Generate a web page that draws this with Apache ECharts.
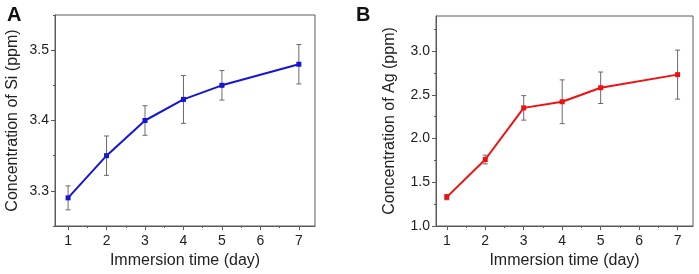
<!DOCTYPE html>
<html><head><meta charset="utf-8">
<script src="https://cdn.jsdelivr.net/npm/echarts@6/dist/echarts.min.js"></script>
<style>html,body{margin:0;padding:0;background:#fff}#c{width:699px;height:274px}</style>
</head><body><div id="c"></div>
<script>
// ---- data ----
const days = [1, 2, 3, 4, 5, 7];
const siValues = [3.29, 3.35, 3.40, 3.43, 3.45, 3.48];
const siErrors = [0.017, 0.028, 0.021, 0.034, 0.021, 0.028];
const agValues = [1.33, 1.76, 2.35, 2.42, 2.58, 2.73];
const agErrors = [0.03, 0.05, 0.14, 0.25, 0.18, 0.28];
const xTicks = [1, 2, 3, 4, 5, 6, 7];
const xMinorTicks = [1.5, 2.5, 3.5, 4.5, 5.5, 6.5];
const siTicks = [3.3, 3.4, 3.5];
const siMinorTicks = [3.25, 3.35, 3.45, 3.55];
const agTicks = [1.0, 1.5, 2.0, 2.5, 3.0];
const agMinorTicks = [1.25, 1.75, 2.25, 2.75, 3.25];

const FONT = 'Liberation Sans';
const AX = '#5a5a5a';
const chart = echarts.init(document.getElementById('c'), null, {renderer: 'canvas'});

function pts(vals) { return days.map((d, i) => [d, vals[i]]); }
function errs(vals, e) { return days.map((d, i) => [d, vals[i] - e[i], vals[i] + e[i]]); }

function xAxes(gi, min, max) {
  return [
    {gridIndex: gi, type: 'value', min: min, max: max,
     name: 'Immersion time (day)', nameLocation: 'middle', nameGap: 27,
     nameTextStyle: {fontFamily: FONT, fontSize: 16, color: '#222'},
     axisLine: {show: true, lineStyle: {color: AX, width: 1}},
     axisTick: {show: true, inside: false, length: 4, customValues: xTicks, lineStyle: {color: AX}},
     axisLabel: {customValues: xTicks, fontFamily: FONT, fontSize: 14, color: '#222', margin: 8},
     splitLine: {show: false}},
    {gridIndex: gi, type: 'value', min: min, max: max, position: 'bottom',
     axisLine: {show: false},
     axisTick: {show: true, length: 2, customValues: xMinorTicks, lineStyle: {color: AX}},
     axisLabel: {show: false}, splitLine: {show: false}}
  ];
}
function yAxes(gi, min, max, ticks, minor, name, gap) {
  return [
    {gridIndex: gi, type: 'value', min: min, max: max,
     name: name, nameLocation: 'middle', nameGap: gap, nameRotate: 90,
     nameTextStyle: {fontFamily: FONT, fontSize: 16, color: '#222'},
     axisLine: {show: true, lineStyle: {color: AX, width: 1}},
     axisTick: {show: true, length: 4, customValues: ticks, lineStyle: {color: AX}},
     axisLabel: {customValues: ticks, fontFamily: FONT, fontSize: 14, color: '#222', margin: 6,
                 formatter: v => v.toFixed(1)},
     splitLine: {show: false}},
    {gridIndex: gi, type: 'value', min: min, max: max, position: 'left',
     axisLine: {show: false},
     axisTick: {show: true, length: 2, customValues: minor, lineStyle: {color: AX}},
     axisLabel: {show: false}, splitLine: {show: false}}
  ];
}

function errSeries(xi, yi, data) {
  return {
    type: 'custom', xAxisIndex: xi, yAxisIndex: yi, data: data, z: 1,
    renderItem: function (params, api) {
      const top = api.coord([api.value(0), api.value(2)]);
      const bot = api.coord([api.value(0), api.value(1)]);
      const w = 2.5;
      const st = {stroke: '#6a6a6a', lineWidth: 1, fill: null};
      return {type: 'group', children: [
        {type: 'line', shape: {x1: top[0], y1: top[1], x2: bot[0], y2: bot[1]}, style: st},
        {type: 'line', shape: {x1: top[0] - w, y1: top[1], x2: top[0] + w, y2: top[1]}, style: st},
        {type: 'line', shape: {x1: bot[0] - w, y1: bot[1], x2: bot[0] + w, y2: bot[1]}, style: st}
      ]};
    }
  };
}

const xa = xAxes(0, 0.66, 7.42).concat(xAxes(1, 0.72, 7.4));
const ya = yAxes(0, 3.25, 3.55, siTicks, siMinorTicks, 'Concentration of Si (ppm)', 34)
  .concat(yAxes(1, 1.0, 3.4, agTicks, agMinorTicks, 'Concentration of Ag (ppm)', 38));

chart.setOption({
  animation: false,
  backgroundColor: '#fff',
  title: [
    {text: 'A', left: 2, top: 0, textStyle: {fontFamily: FONT, fontSize: 20, fontWeight: 'bold', color: '#111'}},
    {text: 'B', left: 351, top: 0, textStyle: {fontFamily: FONT, fontSize: 20, fontWeight: 'bold', color: '#111'}}
  ],
  grid: [
    {left: 55, top: 15, width: 260, height: 213, show: true, borderColor: AX, borderWidth: 1, backgroundColor: 'transparent'},
    {left: 436, top: 16, width: 257, height: 212, show: true, borderColor: AX, borderWidth: 1, backgroundColor: 'transparent'}
  ],
  xAxis: xa,
  yAxis: ya,
  series: [
    errSeries(0, 0, errs(siValues, siErrors)),
    {type: 'line', xAxisIndex: 0, yAxisIndex: 0, data: pts(siValues), z: 2,
     symbol: 'rect', symbolSize: 5, itemStyle: {color: '#1515d8'},
     lineStyle: {color: '#1515d8', width: 2}},
    errSeries(2, 2, errs(agValues, agErrors)),
    {type: 'line', xAxisIndex: 2, yAxisIndex: 2, data: pts(agValues), z: 2,
     symbol: 'rect', symbolSize: 5, itemStyle: {color: '#f01010'},
     lineStyle: {color: '#f01010', width: 2}}
  ]
});
</script></body></html>
